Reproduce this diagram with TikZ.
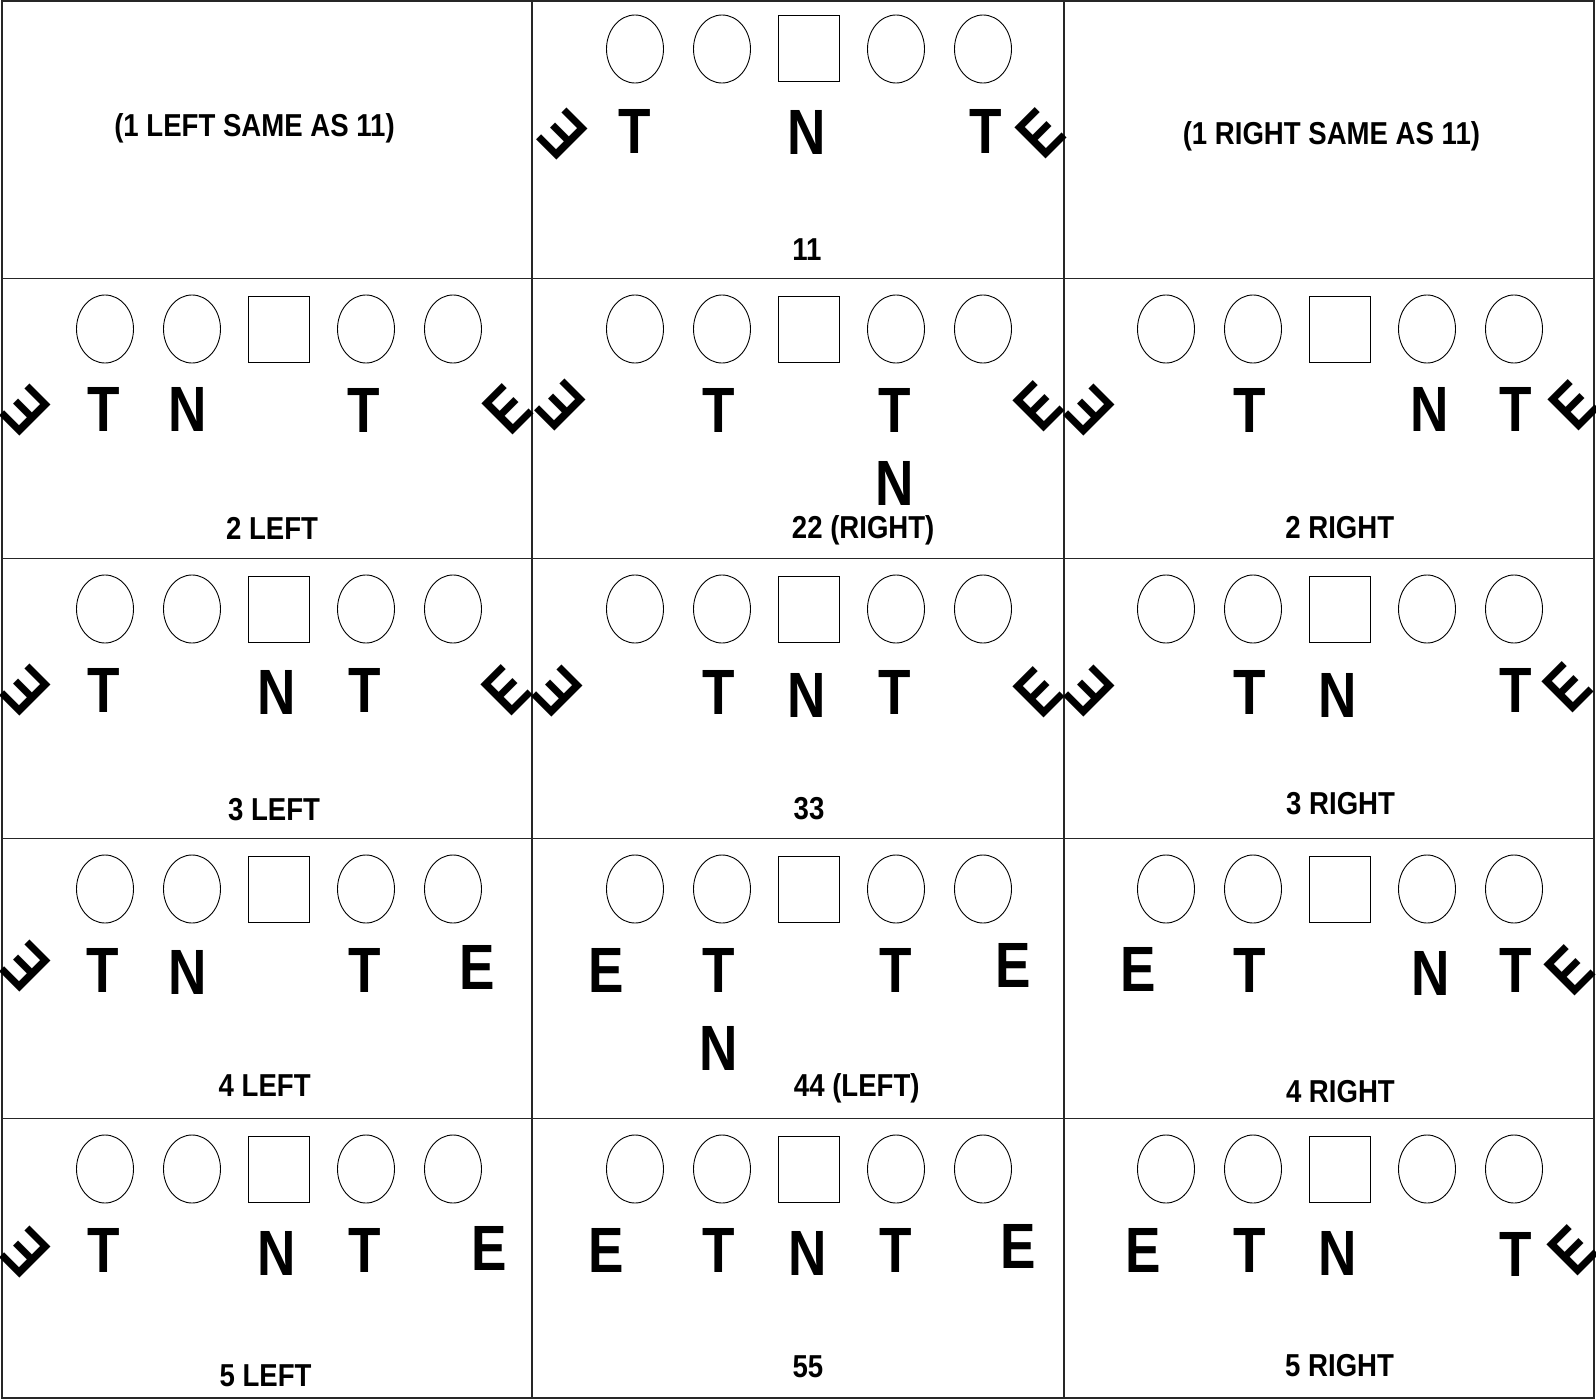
\documentclass[tikz,border=0pt]{standalone}
\usepackage{fontspec}
\setmainfont{Liberation Sans}
\usepackage{graphicx}
\usepackage{tikz}
\usetikzlibrary{shapes.geometric}
\newcommand{\plyr}[1]{\scalebox{0.83}[1]{#1}}
\newcommand{\lbl}[1]{\scalebox{0.87}[1]{#1}}
\newcommand{\oline}[3]{%
  \node[man] (#1a) at (#2-174,#3) {};
  \node[man] (#1b) at (#2-87,#3) {};
  \node[ctr] (#1c) at (#2,#3) {};
  \node[man] (#1d) at (#2+87,#3) {};
  \node[man] (#1e) at (#2+174,#3) {};
}

\begin{document}
\begin{tikzpicture}[
  x=1pt,y=-1pt,
  grid/.style={draw=black!85,line width=1.3pt},
  man/.style={draw,ellipse,minimum width=57pt,minimum height=68pt,
              inner sep=0pt,line width=0.9pt},
  ctr/.style={draw,rectangle,minimum width=61pt,minimum height=66pt,
              inner sep=0pt,line width=1pt},
  pl/.style={inner sep=0pt,font=\fontsize{64}{64}\selectfont\bfseries},
  el/.style={pl,rotate=135},
  er/.style={pl,rotate=45},
  lab/.style={inner sep=0pt,font=\fontsize{31.7}{32}\selectfont\bfseries}
]
\useasboundingbox (0,0) rectangle (1596,1399);

\draw[grid] (2,1) rectangle (1594,1398);
\draw[grid] (532,1) -- (532,1398);
\draw[grid] (1064,1) -- (1064,1398);
\draw[grid] (2,278.5) -- (1594,278.5);
\draw[grid] (2,558.5) -- (1594,558.5);
\draw[grid] (2,838.5) -- (1594,838.5);
\draw[grid] (2,1118.5) -- (1594,1118.5);

\node[lab] (l1) at (254.5,128) {\lbl{(1 LEFT SAME AS 11)}};
\node[lab] (r1) at (1331.4,136) {\lbl{(1 RIGHT SAME AS 11)}};

\oline{k}{809}{49}
\node[el] (ke1) at (562.7,135) {\plyr{E}};
\node[pl] (kt1) at (634.5,131) {\plyr{T}};
\node[pl] (kn) at (807,132.5) {\plyr{N}};
\node[pl] (kt2) at (985.3,131) {\plyr{T}};
\node[er] (ke2) at (1040,133) {\plyr{E}};
\node[lab] (klab) at (807,249.5) {\lbl{11}};

\oline{lt2}{279}{329}
\node[el] (lt2e1) at (25.8,410.7) {\plyr{E}};
\node[pl] (lt2t1) at (103.3,409) {\plyr{T}};
\node[pl] (lt2n) at (187.7,409) {\plyr{N}};
\node[pl] (lt2t2) at (364.2,410) {\plyr{T}};
\node[er] (lt2e2) at (507,409) {\plyr{E}};
\node[lab] (lt2lab) at (272,528) {\lbl{2 LEFT}};

\oline{m22}{809}{329}
\node[el] (m22e1) at (560,406) {\plyr{E}};
\node[pl] (m22t1) at (718.6,410) {\plyr{T}};
\node[pl] (m22t2) at (894.8,410) {\plyr{T}};
\node[er] (m22e2) at (1038,406) {\plyr{E}};
\node[pl] (m22n) at (894.8,483.5) {\plyr{N}};
\node[lab] (m22lab) at (863.2,530) {\lbl{22 (RIGHT)}};

\oline{rt2}{1340}{329}
\node[el] (rt2e1) at (1089,410.7) {\plyr{E}};
\node[pl] (rt2t1) at (1249.7,410) {\plyr{T}};
\node[pl] (rt2n) at (1429.4,409) {\plyr{N}};
\node[pl] (rt2t2) at (1515.9,409) {\plyr{T}};
\node[er] (rt2e2) at (1573,405) {\plyr{E}};
\node[lab] (rt2lab) at (1339.8,528) {\lbl{2 RIGHT}};

\oline{lt3}{279}{609}
\node[el] (lt3e1) at (25.8,690.3) {\plyr{E}};
\node[pl] (lt3t1) at (103.3,690.8) {\plyr{T}};
\node[pl] (lt3n) at (276.3,692.8) {\plyr{N}};
\node[pl] (lt3t2) at (364.5,690.8) {\plyr{T}};
\node[er] (lt3e2) at (506,690.8) {\plyr{E}};
\node[lab] (lt3lab) at (274,809.5) {\lbl{3 LEFT}};

\oline{m33}{809}{609}
\node[el] (m33e1) at (557.8,692) {\plyr{E}};
\node[pl] (m33t1) at (718.6,692) {\plyr{T}};
\node[pl] (m33n) at (806.2,695) {\plyr{N}};
\node[pl] (m33t2) at (894.8,692) {\plyr{T}};
\node[er] (m33e2) at (1038.3,692) {\plyr{E}};
\node[lab] (m33lab) at (809,809) {\lbl{33}};

\oline{rt3}{1340}{609}
\node[el] (rt3e1) at (1089,692) {\plyr{E}};
\node[pl] (rt3t1) at (1250,692) {\plyr{T}};
\node[pl] (rt3n) at (1337.5,695) {\plyr{N}};
\node[pl] (rt3t2) at (1515.6,690) {\plyr{T}};
\node[er] (rt3e2) at (1567.6,687) {\plyr{E}};
\node[lab] (rt3lab) at (1340.6,804) {\lbl{3 RIGHT}};

\oline{lt4}{279}{889}
\node[el] (lt4e1) at (25.4,967) {\plyr{E}};
\node[pl] (lt4t1) at (102.8,970) {\plyr{T}};
\node[pl] (lt4n) at (187.3,972) {\plyr{N}};
\node[pl] (lt4t2) at (364.4,970) {\plyr{T}};
\node[pl] (lt4e2) at (477.4,967) {\plyr{E}};
\node[lab] (lt4lab) at (264.7,1086) {\lbl{4 LEFT}};

\oline{m44}{809}{889}
\node[pl] (m44e1) at (605.8,970.8) {\plyr{E}};
\node[pl] (m44t1) at (719,970.8) {\plyr{T}};
\node[pl] (m44t2) at (895.4,970.8) {\plyr{T}};
\node[pl] (m44e2) at (1013,965) {\plyr{E}};
\node[pl] (m44n) at (718.5,1048.3) {\plyr{N}};
\node[lab] (m44lab) at (856.8,1088.5) {\lbl{44 (LEFT)}};

\oline{rt4}{1340}{889}
\node[pl] (rt4e1) at (1138.4,969) {\plyr{E}};
\node[pl] (rt4t1) at (1249.5,970.8) {\plyr{T}};
\node[pl] (rt4n) at (1430.9,973.2) {\plyr{N}};
\node[pl] (rt4t2) at (1515.7,970.8) {\plyr{T}};
\node[er] (rt4e2) at (1569.7,970.8) {\plyr{E}};
\node[lab] (rt4lab) at (1340.4,1092) {\lbl{4 RIGHT}};

\oline{lt5}{279}{1169}
\node[el] (lt5e1) at (25.8,1253) {\plyr{E}};
\node[pl] (lt5t1) at (103.3,1250.8) {\plyr{T}};
\node[pl] (lt5n) at (276.3,1253.2) {\plyr{N}};
\node[pl] (lt5t2) at (364.5,1250.8) {\plyr{T}};
\node[pl] (lt5e2) at (489.5,1248.8) {\plyr{E}};
\node[lab] (lt5lab) at (265.5,1376.2) {\lbl{5 LEFT}};

\oline{m55}{809}{1169}
\node[pl] (m55e1) at (605.8,1250.8) {\plyr{E}};
\node[pl] (m55t1) at (719,1250.8) {\plyr{T}};
\node[pl] (m55n) at (807.2,1253.2) {\plyr{N}};
\node[pl] (m55t2) at (895.4,1250.8) {\plyr{T}};
\node[pl] (m55e2) at (1018.6,1246.8) {\plyr{E}};
\node[lab] (m55lab) at (807.9,1367.2) {\lbl{55}};

\oline{rt5}{1340}{1169}
\node[pl] (rt5e1) at (1143.1,1250) {\plyr{E}};
\node[pl] (rt5t1) at (1250,1250.8) {\plyr{T}};
\node[pl] (rt5n) at (1337.5,1253) {\plyr{N}};
\node[pl] (rt5t2) at (1516,1254) {\plyr{T}};
\node[er] (rt5e2) at (1572.3,1250.8) {\plyr{E}};
\node[lab] (rt5lab) at (1339.6,1366) {\lbl{5 RIGHT}};

\end{tikzpicture}
\end{document}
